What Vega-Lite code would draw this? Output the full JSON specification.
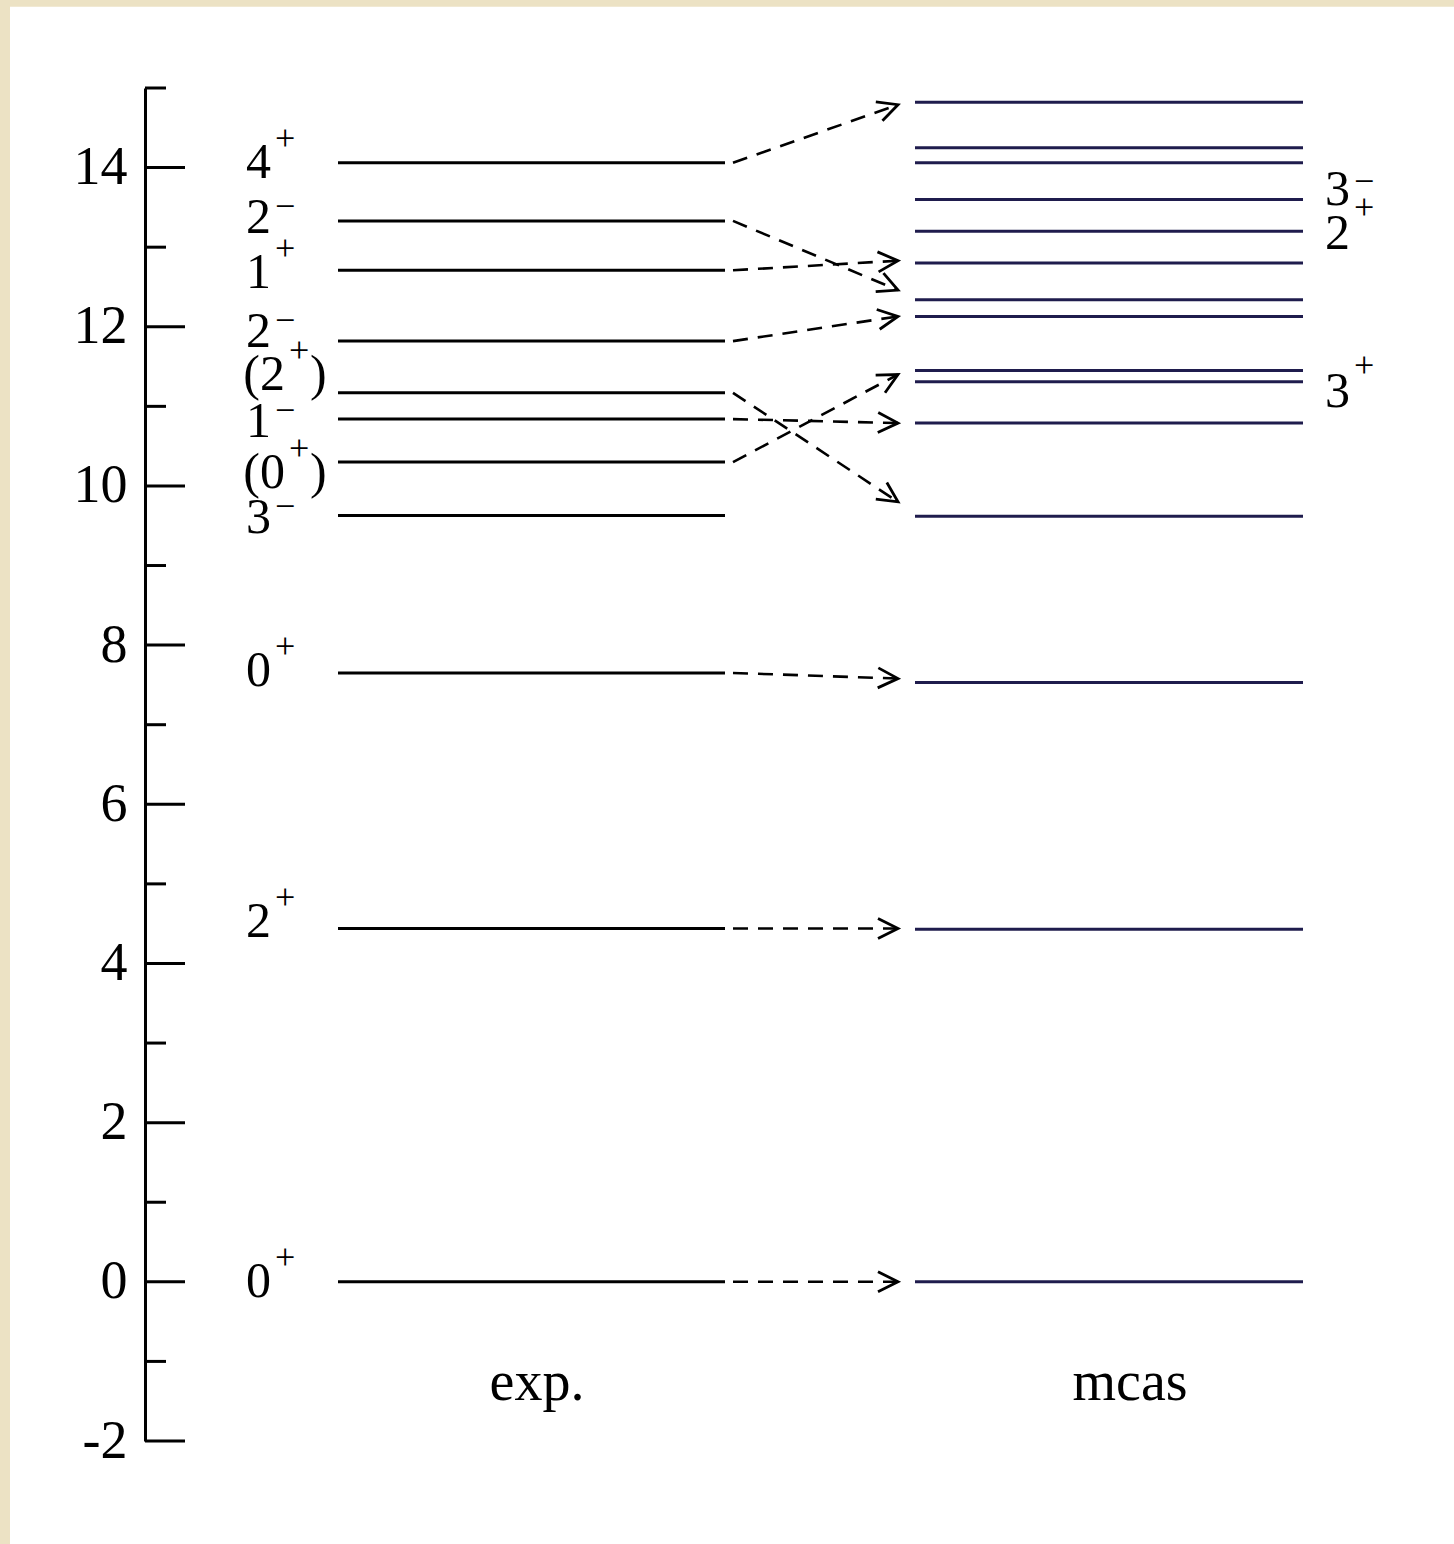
{
  "$schema": "https://vega.github.io/schema/vega-lite/v6.json",
  "width": 1300,
  "height": 1353,
  "autosize": {"type": "none"},
  "padding": {"left": 145, "top": 88, "right": 9, "bottom": 103},
  "background": "#ece2c4",
  "config": {"view": {"stroke": null}, "font": "Liberation Serif"},
  "datasets": {
    "levels": [
      {"set": "exp", "E": 0}, {"set": "exp", "E": 4.44}, {"set": "exp", "E": 7.65}, {"set": "exp", "E": 9.63},
      {"set": "exp", "E": 10.30}, {"set": "exp", "E": 10.84}, {"set": "exp", "E": 11.17}, {"set": "exp", "E": 11.82},
      {"set": "exp", "E": 12.71}, {"set": "exp", "E": 13.33}, {"set": "exp", "E": 14.06},
      {"set": "mcas", "E": 0}, {"set": "mcas", "E": 4.43}, {"set": "mcas", "E": 7.53}, {"set": "mcas", "E": 9.62},
      {"set": "mcas", "E": 10.79}, {"set": "mcas", "E": 11.31}, {"set": "mcas", "E": 11.45}, {"set": "mcas", "E": 12.13},
      {"set": "mcas", "E": 12.34}, {"set": "mcas", "E": 12.80}, {"set": "mcas", "E": 13.20}, {"set": "mcas", "E": 13.60},
      {"set": "mcas", "E": 14.06}, {"set": "mcas", "E": 14.25}, {"set": "mcas", "E": 14.82}
    ],
    "arrows": [
      {"from": 14.06, "to": 14.79}, {"from": 13.33, "to": 12.46}, {"from": 12.71, "to": 12.83},
      {"from": 11.82, "to": 12.13}, {"from": 11.17, "to": 9.80}, {"from": 10.84, "to": 10.79},
      {"from": 10.30, "to": 11.40}, {"from": 7.65, "to": 7.58}, {"from": 4.44, "to": 4.44}, {"from": 0, "to": 0}
    ],
    "labels": [
      {"side": "exp", "E": 14.06, "pre": "4", "sup": "+", "post": ""},
      {"side": "exp", "E": 13.37, "pre": "2", "sup": "−", "post": ""},
      {"side": "exp", "E": 12.68, "pre": "1", "sup": "+", "post": ""},
      {"side": "exp", "E": 11.94, "pre": "2", "sup": "−", "post": ""},
      {"side": "exp", "E": 11.40, "pre": "(2", "sup": "+", "post": ")"},
      {"side": "exp", "E": 10.80, "pre": "1", "sup": "−", "post": ""},
      {"side": "exp", "E": 10.16, "pre": "(0", "sup": "+", "post": ")"},
      {"side": "exp", "E": 9.60, "pre": "3", "sup": "−", "post": ""},
      {"side": "exp", "E": 7.68, "pre": "0", "sup": "+", "post": ""},
      {"side": "exp", "E": 4.52, "pre": "2", "sup": "+", "post": ""},
      {"side": "exp", "E": 0, "pre": "0", "sup": "+", "post": ""},
      {"side": "mcas", "E": 13.72, "pre": "3", "sup": "−", "post": ""},
      {"side": "mcas", "E": 13.16, "pre": "2", "sup": "+", "post": ""},
      {"side": "mcas", "E": 11.18, "pre": "3", "sup": "+", "post": ""}
    ],
    "major": [{"v": -2}, {"v": 0}, {"v": 2}, {"v": 4}, {"v": 6}, {"v": 8}, {"v": 10}, {"v": 12}, {"v": 14}],
    "minor": [{"v": -1}, {"v": 1}, {"v": 3}, {"v": 5}, {"v": 7}, {"v": 9}, {"v": 11}, {"v": 13}, {"v": 15}],
    "columns": [{"name": "exp.", "c": "exp"}, {"name": "mcas", "c": "mcas"}]
  },
  "layer": [
    {
      "data": {"values": [{"panel": "white"}]},
      "mark": {"type": "rect", "color": "white"},
      "encoding": {
        "x": {"datum": -1.35, "type": "quantitative", "scale": {"domain": [0, 13], "nice": false, "zero": false}, "axis": null},
        "x2": {"datum": 13.1},
        "y": {"datum": 16.02, "type": "quantitative", "scale": {"domain": [-2, 15], "nice": false, "zero": false},
          "axis": {"values": [-2, 0, 2, 4, 6, 8, 10, 12, 14], "labelExpr": "'' + datum.value", "ticks": false, "tickSize": 0,
            "labelPadding": 18, "labelFontSize": 54, "labelFont": "Liberation Serif", "labelColor": "black",
            "domainColor": "black", "domainWidth": 3, "grid": false, "title": null, "zindex": 2}},
        "y2": {"datum": -3.3}
      }
    },
    {
      "data": {"name": "major"},
      "mark": {"type": "rule", "color": "black", "strokeWidth": 3},
      "encoding": {"x": {"datum": 0, "type": "quantitative"}, "x2": {"datum": 0.40}, "y": {"field": "v", "type": "quantitative"}}
    },
    {
      "data": {"name": "minor"},
      "mark": {"type": "rule", "color": "black", "strokeWidth": 3},
      "encoding": {"x": {"datum": 0, "type": "quantitative"}, "x2": {"datum": 0.21}, "y": {"field": "v", "type": "quantitative"}}
    },
    {
      "data": {"name": "levels"},
      "transform": [{"filter": "datum.set == 'exp'"}],
      "mark": {"type": "rule", "color": "black", "strokeWidth": 3},
      "encoding": {"x": {"datum": 1.93, "type": "quantitative"}, "x2": {"datum": 5.80}, "y": {"field": "E", "type": "quantitative"}}
    },
    {
      "data": {"name": "levels"},
      "transform": [{"filter": "datum.set == 'mcas'"}],
      "mark": {"type": "rule", "color": "#1f1c4d", "strokeWidth": 3},
      "encoding": {"x": {"datum": 7.70, "type": "quantitative"}, "x2": {"datum": 11.58}, "y": {"field": "E", "type": "quantitative"}}
    },
    {
      "data": {"name": "arrows"},
      "mark": {"type": "rule", "color": "black", "strokeWidth": 2.6, "strokeDash": [15, 10]},
      "encoding": {
        "x": {"datum": 5.88, "type": "quantitative"}, "x2": {"datum": 7.53},
        "y": {"field": "from", "type": "quantitative"}, "y2": {"field": "to"}
      }
    },
    {
      "data": {"name": "arrows"},
      "mark": {
        "type": "point", "shape": "M-2,-1L0,0L-2,1", "size": 400, "filled": false, "color": "black", "strokeWidth": 2.8, "opacity": 1,
        "angle": {"expr": "(atan2(scale('y', datum.to) - scale('y', datum.from), scale('x', 7.53) - scale('x', 5.88)) * 180 / PI + 360) % 360"}
      },
      "encoding": {"x": {"datum": 7.53, "type": "quantitative"}, "y": {"field": "to", "type": "quantitative"}}
    },
    {
      "data": {"name": "labels"},
      "transform": [{"filter": "datum.side == 'exp' && datum.post == ''"}],
      "encoding": {"x": {"datum": 1.27, "type": "quantitative"}, "y": {"field": "E", "type": "quantitative"}},
      "layer": [
        {"mark": {"type": "text", "align": "right", "baseline": "middle", "fontSize": 50, "font": "Liberation Serif", "color": "black", "dx": -1},
         "encoding": {"text": {"field": "pre"}}},
        {"mark": {"type": "text", "align": "left", "baseline": "middle", "fontSize": 36, "font": "Liberation Serif", "color": "black", "dx": 3,
          "dy": {"expr": "datum.sup == '+' ? -24 : -11"}},
         "encoding": {"text": {"field": "sup"}}}
      ]
    },
    {
      "data": {"name": "labels"},
      "transform": [{"filter": "datum.side == 'exp' && datum.post != ''"}],
      "encoding": {"x": {"datum": 1.41, "type": "quantitative"}, "y": {"field": "E", "type": "quantitative"}},
      "layer": [
        {"mark": {"type": "text", "align": "right", "baseline": "middle", "fontSize": 50, "font": "Liberation Serif", "color": "black", "dx": -1},
         "encoding": {"text": {"field": "pre"}}},
        {"mark": {"type": "text", "align": "left", "baseline": "middle", "fontSize": 36, "font": "Liberation Serif", "color": "black", "dx": 3,
          "dy": {"expr": "datum.sup == '+' ? -24 : -11"}},
         "encoding": {"text": {"field": "sup"}}},
        {"mark": {"type": "text", "align": "left", "baseline": "middle", "fontSize": 50, "font": "Liberation Serif", "color": "black", "dx": 24},
         "encoding": {"text": {"field": "post"}}}
      ]
    },
    {
      "data": {"name": "labels"},
      "transform": [{"filter": "datum.side == 'mcas'"}],
      "encoding": {"x": {"datum": 12.06, "type": "quantitative"}, "y": {"field": "E", "type": "quantitative"}},
      "layer": [
        {"mark": {"type": "text", "align": "right", "baseline": "middle", "fontSize": 50, "font": "Liberation Serif", "color": "black", "dx": -1},
         "encoding": {"text": {"field": "pre"}}},
        {"mark": {"type": "text", "align": "left", "baseline": "middle", "fontSize": 36, "font": "Liberation Serif", "color": "black", "dx": 3,
          "dy": {"expr": "datum.sup == '+' ? -26 : -8"}},
         "encoding": {"text": {"field": "sup"}}}
      ]
    },
    {
      "data": {"name": "columns"},
      "transform": [{"filter": "datum.c == 'exp'"}],
      "mark": {"type": "text", "align": "center", "baseline": "alphabetic", "fontSize": 56, "font": "Liberation Serif", "color": "black"},
      "encoding": {"x": {"datum": 3.92, "type": "quantitative"}, "y": {"datum": -1.48, "type": "quantitative"}, "text": {"field": "name"}}
    },
    {
      "data": {"name": "columns"},
      "transform": [{"filter": "datum.c == 'mcas'"}],
      "mark": {"type": "text", "align": "center", "baseline": "alphabetic", "fontSize": 56, "font": "Liberation Serif", "color": "black"},
      "encoding": {"x": {"datum": 9.85, "type": "quantitative"}, "y": {"datum": -1.48, "type": "quantitative"}, "text": {"field": "name"}}
    }
  ]
}
